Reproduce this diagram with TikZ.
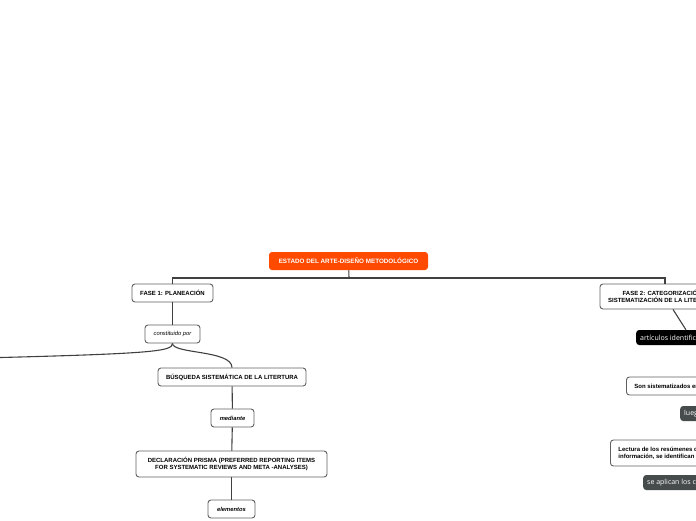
\documentclass[tikz,border=0pt]{standalone}
\usepackage{fontspec}
\setmainfont{Liberation Sans}
\newfontfamily\opensans{Open Sans}
\usetikzlibrary{calc}
\definecolor{rootorange}{RGB}{255,74,0}
\definecolor{linegray}{RGB}{64,64,64}
\definecolor{boxgray}{RGB}{96,96,96}
\definecolor{slategray}{RGB}{70,75,75}

\begin{document}
\begin{tikzpicture}[x=1pt,y=-1pt,
    topic/.style={draw=boxgray, line width=0.9pt, fill=white, rounded corners=3pt, inner sep=0pt,
        minimum height=18pt, align=center, font=\fontsize{6}{7.4}\selectfont\bfseries},
    linkword/.style={topic, font=\fontsize{5.8}{7}\selectfont\itshape},
    darktag/.style={fill=slategray, text=white, rounded corners=3pt, inner sep=0pt, minimum height=15pt,
        anchor=west, align=left, font=\fontsize{7}{8.4}\selectfont\opensans},
    link/.style={draw=linegray, line width=1.1pt}]
    \useasboundingbox (0,0) rectangle (696,520);
    \clip (0,0) rectangle (696,520);
    \node[topic, fill=rootorange, draw=none, text=white, minimum width=159pt, font=\fontsize{6.3}{7.6}\selectfont\bfseries] (root) at (348.5,261) {ESTADO DEL ARTE-DISEÑO METODOLÓGICO};
    \coordinate (bus) at (349,278);
    % fase 1
    \node[topic, minimum width=81pt] (fase1) at (172.5,293) {FASE 1: PLANEACIÓN};
    \node[linkword, minimum width=55pt] (const) at (172.5,334) {constituido por};
    \node[topic, minimum width=148pt] (busq) at (232,377) {BÚSQUEDA SISTEMÁTICA DE LA LITERTURA};
    \node[linkword, font=\fontsize{5.8}{7}\selectfont\bfseries\itshape, minimum width=43pt] (med) at (232.5,418) {mediante};
    \node[topic, minimum width=191pt, minimum height=26pt] (prisma) at (231.5,464) {DECLARACIÓN PRISMA (PREFERRED REPORTING ITEMS\\FOR SYSTEMATIC REVIEWS AND META -ANALYSES)};
    \node[linkword, font=\fontsize{5.8}{7}\selectfont\bfseries\itshape, minimum width=47pt] (elem) at (231.5,509) {elementos};
    \coordinate (offleft) at (-60,359);
    % fase 2
    \node[topic, minimum width=130pt, minimum height=25pt] (fase2) at (665,296.5) {FASE 2: CATEGORIZACIÓN Y\\SISTEMATIZACIÓN DE LA LITERATURA};
    \node[darktag, fill=black, inner xsep=4pt] (art) at (636,337.5) {artículos identificados};
    \node[topic, anchor=west, inner xsep=8pt] (sist) at (626,386) {Son sistematizados en una matriz};
    \node[darktag, inner xsep=4pt] (luego) at (680,413.5) {luego};
    \node[topic, anchor=west, align=left, inner xsep=8pt, minimum height=26pt] (lect) at (610,453) {Lectura de los resúmenes de cada artículo y su\\información, se identifican los criterios};
    \node[darktag, inner xsep=4pt] (aplic) at (643,482.5) {se aplican los criterios};
    % connectors
    \draw[link] (root) -- (bus);
    \draw[link] (bus) -| (fase1);
    \draw[link] (bus) -| (fase2);
    \draw[link] (fase1) -- (const);
    \draw[link] (const.south) .. controls (172.5,352) and (150,354) .. (offleft);
    \draw[link] (const.south) .. controls (172.5,354) and (232,350) .. (busq.north);
    \draw[link] (busq) -- (med);
    \draw[link] (med) -- (prisma);
    \draw[link] (prisma) -- (elem);
    \draw[link] ([xshift=8pt]fase2.south) -- ([xshift=10pt]art.north);
\end{tikzpicture}
\end{document}
